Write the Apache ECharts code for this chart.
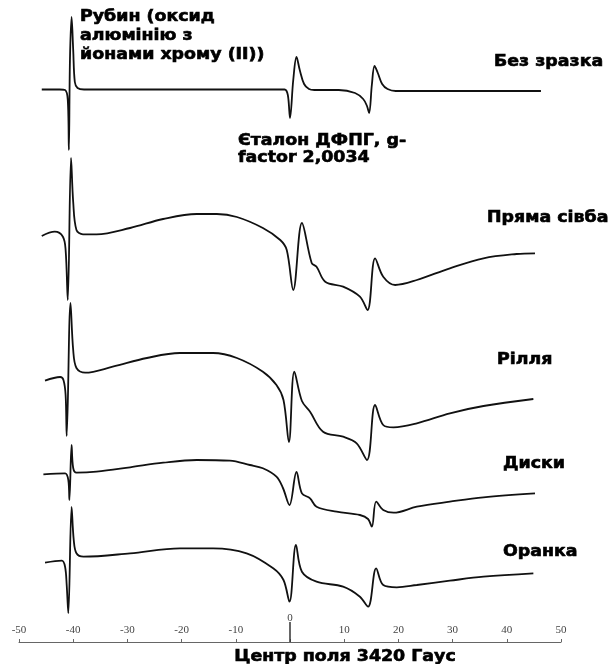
<!DOCTYPE html>
<html>
<head>
<meta charset="utf-8">
<style>
  html, body { margin: 0; padding: 0; background: #fff; }
  #chart { width: 611px; height: 664px; }
</style>
<script src="https://cdn.jsdelivr.net/npm/echarts@6/dist/echarts.min.js"></script>
</head>
<body>
<div id="chart"></div>
<script>
// field offset from the centre (G) and stacked intensity (arb. units)
const noSample = [
  [-45.8, 552.5], [-42.5, 552.5], [-41.5, 552], [-41.0, 542], [-40.8, 492], [-40.6, 582], [-40.3, 625],
  [-40.0, 592], [-39.7, 560], [-39.2, 554], [-38.0, 552.5], [-1.0, 552.5], [-0.4, 547], [0.0, 524],
  [0.6, 562], [1.2, 585], [1.8, 572], [2.6, 558], [3.5, 553], [4.5, 552], [9.0, 552], [12.0, 549],
  [13.5, 543], [14.2, 536], [14.6, 529], [15.1, 557], [15.6, 576], [16.2, 569], [17.0, 558],
  [18.0, 553], [19.5, 551], [30, 551], [46.3, 551]
];
const directSeeding = [
  [-45.8, 406], [-43.4, 410.3], [-41.9, 405.3], [-41.4, 392], [-41.0, 342], [-40.4, 484], [-40.0, 440],
  [-39.4, 412], [-38.2, 407.7], [-35.7, 407.7], [-29.5, 414], [-23.4, 423], [-17.2, 428], [-13.5, 428],
  [-9.8, 425], [-5.0, 414], [-1.8, 402], [-0.6, 392], [0.6, 352], [2.2, 419], [4.0, 379], [4.9, 375.3],
  [6.5, 360.3], [9.8, 355.3], [12.9, 345.3], [14.3, 332], [15.7, 383.7], [17.2, 365.3], [19.4, 357],
  [23.4, 362], [29.5, 373.7], [35.7, 383.7], [41.8, 388], [45.2, 388.7]
];
const arableLand = [
  [-45.2, 261.3], [-42.4, 265], [-41.8, 262], [-41.4, 247], [-41.2, 206], [-40.5, 339], [-40.0, 292],
  [-39.4, 274], [-37.8, 269.3], [-32.7, 275.3], [-26.4, 284], [-20.3, 289], [-14.2, 289], [-9.8, 284],
  [-5.0, 270.3], [-2.5, 257], [-1.2, 242], [-0.2, 200], [0.8, 270.3], [2.2, 241], [3.7, 230.3],
  [6.1, 210.3], [9.8, 205.3], [12.3, 198.7], [14.2, 182], [15.7, 237], [17.2, 217], [19.1, 214.7],
  [23.4, 218.7], [29.5, 228.7], [35.7, 236], [44.9, 243]
];
const disks = [
  [-45.5, 167.7], [-41.5, 168.7], [-40.9, 162], [-40.7, 142], [-40.3, 197], [-40.0, 174], [-39.4, 169.3],
  [-35.7, 170.3], [-29.5, 174.7], [-23.4, 179.3], [-17.2, 182], [-11.1, 181.3], [-7.4, 177], [-5.0, 173.7],
  [-2.5, 165.3], [-1.3, 154], [-0.1, 137], [1.2, 170], [2.2, 148.7], [3.7, 143.7], [4.9, 135.3],
  [8.6, 130.3], [12.9, 127], [14.4, 123], [15.1, 115.3], [15.9, 140.3], [17.2, 132], [19.1, 129.3],
  [23.4, 135.3], [29.5, 140.3], [35.7, 144.7], [45.2, 148.7]
];
const ploughing = [
  [-45.2, 79.3], [-42.1, 81.3], [-41.5, 75.3], [-41.2, 57], [-40.9, 28.7], [-40.3, 135], [-39.9, 102],
  [-39.4, 88.7], [-38.1, 85.3], [-29.5, 88.7], [-20.3, 93.7], [-14.2, 93.7], [-8.0, 88.7], [-3.1, 73.7],
  [-1.2, 62], [-0.1, 40.3], [1.1, 97], [2.2, 70.3], [4.9, 60.3], [9.8, 55.3], [12.9, 45.3], [14.4, 35.3],
  [15.9, 73.7], [17.2, 57], [19.7, 54.7], [23.4, 57], [29.5, 61.3], [35.7, 65.3], [44.9, 68.7]
];

const seriesNames = ['Без зразка', 'Пряма сівба', 'Рілля', 'Диски', 'Оранка'];
const seriesData = [noSample, directSeeding, arableLand, disks, ploughing];

const FONT = 'bold 15px "DejaVu Sans", sans-serif';

const chart = echarts.init(document.getElementById('chart'));

// heavy wide captions, like the Arial Black of the original
const label = (text, x, y, extra) => ({
  type: 'text',
  x, y,
  scaleX: 1.16,
  style: Object.assign({
    text,
    font: FONT,
    fill: '#000',
    stroke: '#000',
    lineWidth: 0.6,
    align: 'left',
    verticalAlign: 'middle'
  }, extra || {})
});

chart.setOption({
  animation: false,
  grid: { left: 19, right: 50, top: 0, bottom: 22 },
  xAxis: {
    type: 'value',
    min: -50,
    max: 50,
    interval: 10,
    axisLine: { lineStyle: { color: '#666', width: 1 } },
    axisTick: { inside: true, length: 3, lineStyle: { color: '#666' } },
    axisLabel: {
      inside: true,
      margin: 6,
      color: '#444',
      fontSize: 11,
      fontFamily: '"Liberation Serif", serif',
      formatter: v => (v === 0 ? '' : String(v))
    },
    splitLine: { show: false }
  },
  yAxis: { type: 'value', min: 0, max: 642, show: false },
  series: seriesData.map((d, i) => ({
    name: seriesNames[i],
    type: 'line',
    data: d,
    symbol: 'none',
    smooth: 0.35,
    lineStyle: { color: '#111', width: 1.8 },
    markLine: i === 0 ? {
      silent: true,
      symbol: 'none',
      label: { show: false },
      lineStyle: { color: '#333', width: 1.5, type: 'solid' },
      data: [[{ coord: [0, 0] }, { coord: [0, 20] }]]
    } : undefined
  })),
  graphic: [
    label('Рубин (оксид\nалюмінію з\nйонами хрому (II))', 80, 8, { verticalAlign: 'top', lineHeight: 19 }),
    label('Без зразка', 494, 62),
    label('Єталон ДФПГ, g-\nfactor 2,0034', 238, 133, { verticalAlign: 'top', lineHeight: 17 }),
    label('Пряма сівба', 487, 218),
    label('Рілля', 497, 360),
    label('Диски', 503, 464),
    label('Оранка', 503, 552),
    label('Центр поля 3420 Гаус', 345, 657, { align: 'center' }),
    {
      type: 'text', x: 290, y: 618,
      style: { text: '0', font: '11px "Liberation Serif", serif', fill: '#444', align: 'center', verticalAlign: 'middle' }
    }
  ]
});
</script>
</body>
</html>
